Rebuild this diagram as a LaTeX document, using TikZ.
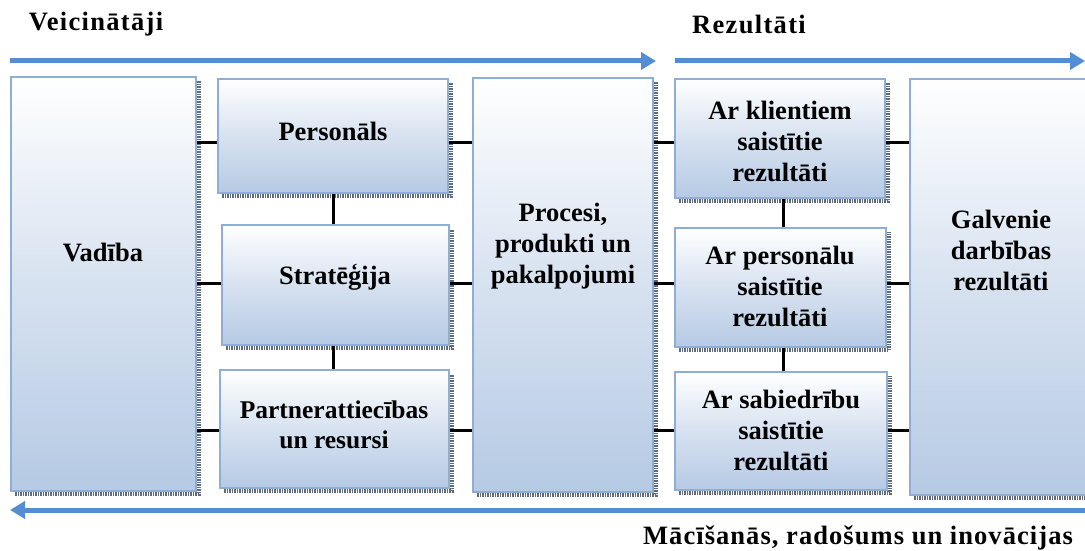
\documentclass[tikz,border=0pt]{standalone}
\usepackage{fontspec}
\setmainfont{Liberation Serif}[BoldFont={Liberation Serif Bold}]
\usetikzlibrary{arrows.meta,calc}
\definecolor{boxborder}{RGB}{143,174,214}
\definecolor{boxfill}{RGB}{182,202,228}
\definecolor{arrowblue}{RGB}{84,141,212}
\definecolor{shadowgray}{RGB}{95,105,120}
\tikzset{
  box/.style={draw=boxborder, line width=1.2pt, top color=white, bottom color=boxfill, middle color=boxfill!55!white, inner sep=0pt},
  shad/.style={draw=shadowgray, line width=3.5pt, dash pattern=on 1.5pt off 1pt},
  lbl/.style={font=\fontsize{26.5}{31}\selectfont\bfseries, align=center, inner sep=0pt, text=black},
  slbl/.style={font=\fontsize{25.5}{30}\selectfont\bfseries, align=center, inner sep=0pt, text=black},
  hlbl/.style={font=\fontsize{26.5}{31}\selectfont\bfseries\addfontfeature{LetterSpace=5}, inner sep=0pt, text=black},
  conn/.style={draw=black, line width=3pt},
  flow/.style={draw=arrowblue, line width=5pt, -{Triangle[length=15pt,width=17pt]}}
}
\newcommand{\mybox}[5]{%
  \draw[shad] (#2+4,#5+3) -- (#4+3,#5+3) -- (#4+3,#3+4);
  \node[box, minimum width={(#4-#2)*1pt}, minimum height={(#5-#3)*1pt}] (#1) at ({(#2+#4)/2},{(#3+#5)/2}) {};
}
\begin{document}
\begin{tikzpicture}[x=1pt,y=-1pt]
\useasboundingbox (0,0) rectangle (1085,551);
\clip (0,0) rectangle (1085,551);
\fill[white] (0,0) rectangle (1085,551);

% header texts
\node[hlbl] (hveic) at (96,24) {Veicinātāji};
\node[hlbl] (hrez) at (749,24) {Rezultāti};
\node[hlbl, font=\fontsize{26.5}{31}\selectfont\bfseries\addfontfeature{LetterSpace=4}] (hmac) at (858,538) {Mācīšanās, radošums un inovācijas};

% flow arrows
\coordinate (a1s) at (10,61);
\coordinate (a1e) at (656,61);
\coordinate (a2s) at (675,61);
\coordinate (a2e) at (1085,61);
\coordinate (a3s) at (1090,510);
\coordinate (a3e) at (10,510);
\draw[flow] (a1s) -- (a1e);
\draw[flow] (a2s) -- (a2e);
\draw[flow] (a3s) -- (a3e);

% boxes
\mybox{vad}{11}{77}{196}{491}
\mybox{pers}{218}{79}{448}{193}
\mybox{strat}{222}{225}{449}{345}
\mybox{partn}{220}{370}{449}{488}
\mybox{proc}{473}{78}{653}{492}
\mybox{kli}{675}{79}{885}{198}
\mybox{perr}{675}{228}{886}{347}
\mybox{sab}{675}{372}{887}{490}
\mybox{galv}{910}{79}{1110}{495}

% box labels
\node[lbl] (tvad) at (103,253) {Vadība};
\node[lbl] (tpers) at (333,131) {Personāls};
\node[lbl] (tstrat) at (335,277) {Stratēģija};
\node[slbl] (tpartn) at (334,425) {Partnerattiecības\\un resursi};
\node[lbl] (tproc) at (563,246) {Procesi,\\produkti un\\pakalpojumi};
\node[lbl] (tkli) at (780,141) {Ar klientiem\\saistītie\\rezultāti};
\node[lbl] (tperr) at (780,286) {Ar personālu\\saistītie\\rezultāti};
\node[lbl] (tsab) at (781,430) {Ar sabiedrību\\saistītie\\rezultāti};
\node[lbl] (tgalv) at (1001,250) {Galvenie\\darbības\\rezultāti};

% connectors left column
\draw[conn] (vad.east |- 0,142) -- (pers.west |- 0,142);
\draw[conn] (pers.east |- 0,142) -- (proc.west |- 0,142);
\draw[conn] (vad.east |- 0,283) -- (strat.west |- 0,283);
\draw[conn] (strat.east |- 0,283) -- (proc.west |- 0,283);
\draw[conn] (vad.east |- 0,430) -- (partn.west |- 0,430);
\draw[conn] (partn.east |- 0,430) -- (proc.west |- 0,430);
\draw[conn] (pers.south -| 333,0) -- (strat.north -| 333,0);
\draw[conn] (strat.south -| 333,0) -- (partn.north -| 333,0);

% connectors right column
\draw[conn] (proc.east |- 0,142) -- (kli.west |- 0,142);
\draw[conn] (kli.east |- 0,142) -- (galv.west |- 0,142);
\draw[conn] (proc.east |- 0,283) -- (perr.west |- 0,283);
\draw[conn] (perr.east |- 0,283) -- (galv.west |- 0,283);
\draw[conn] (proc.east |- 0,430) -- (sab.west |- 0,430);
\draw[conn] (sab.east |- 0,430) -- (galv.west |- 0,430);
\draw[conn] (kli.south -| 783,0) -- (perr.north -| 783,0);
\draw[conn] (perr.south -| 783,0) -- (sab.north -| 783,0);
\end{tikzpicture}
\end{document}
